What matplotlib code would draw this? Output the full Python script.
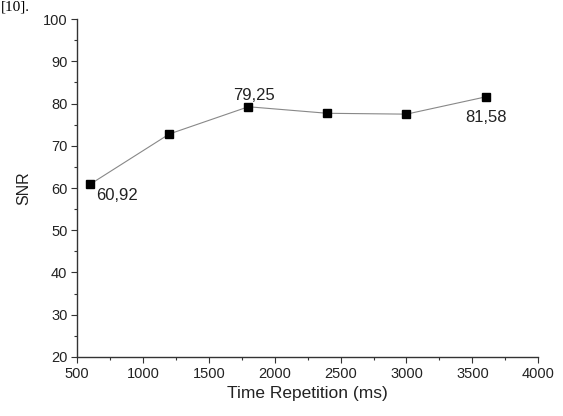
import matplotlib
matplotlib.use("Agg")
import matplotlib.pyplot as plt
from matplotlib.ticker import MultipleLocator

tr = [600, 1200, 1800, 2400, 3000, 3600]
snr = [60.92, 72.8, 79.25, 77.7, 77.5, 81.58]
labels = {0: "60,92", 2: "79,25", 5: "81,58"}
label_offsets = {0: (4, -8.5), 2: (4, 8), 5: (0, -15)}
label_ha = {0: 'left', 2: 'center', 5: 'center'}

plt.rcParams['font.family'] = ['Liberation Sans', 'DejaVu Sans']
fig = plt.figure(figsize=(5.63, 4.16), dpi=100)
ax = fig.add_axes([0.137, 0.142, 0.819, 0.812])
ax.plot(tr, snr, color='#888888', lw=0.8, marker='s', ms=5.8,
        mfc='black', mec='black', zorder=3)
for i, t in labels.items():
    dx, dy = label_offsets[i]
    ax.annotate(t, (tr[i], snr[i]), xytext=(dx, dy), textcoords='offset points',
                ha=label_ha[i], va='center', fontsize=12,
                color='#222222')
ax.set_xlim(500, 4000)
ax.set_ylim(20, 100)
ax.xaxis.set_major_locator(MultipleLocator(500))
ax.xaxis.set_minor_locator(MultipleLocator(250))
ax.yaxis.set_major_locator(MultipleLocator(10))
ax.yaxis.set_minor_locator(MultipleLocator(5))
ax.spines['top'].set_visible(False)
ax.spines['right'].set_visible(False)
for s in ['left', 'bottom']:
    ax.spines[s].set_color('#333333')
    ax.spines[s].set_linewidth(1.0)
ax.tick_params(which='major', direction='out', length=4, width=0.8,
               labelsize=10.5, colors='#333333', labelcolor='#222222', pad=3)
ax.tick_params(which='minor', direction='out', length=2.5, width=0.8, colors='#333333')
ax.set_xlabel("Time Repetition (ms)", fontsize=12.5, color='#222222', labelpad=4)
ax.set_ylabel("SNR", fontsize=11.5, color='#222222', labelpad=8)
fig.text(0.002, 0.998, "[10].", fontsize=11, family='Liberation Serif',
         va='top', ha='left')
fig.savefig("out.png", dpi=100)
